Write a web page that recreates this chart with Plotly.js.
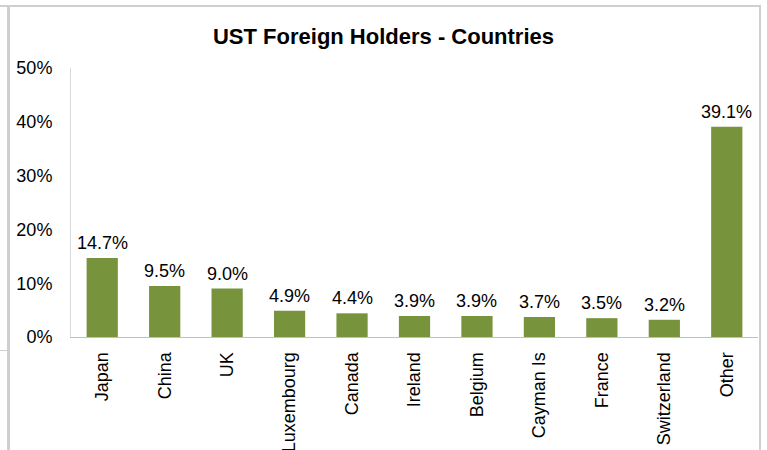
<!DOCTYPE html>
<html>
<head>
<meta charset="utf-8">
<script src="https://cdn.plot.ly/plotly-3.0.1.min.js"></script>
<style>
  html, body { margin: 0; padding: 0; background: #fff; }
  #chart { width: 767px; height: 450px; position: absolute; left: 0; top: 0; }
  .fr { position: absolute; background: #cfcfcf; }
</style>
</head>
<body>
<div id="chart"></div>
<div class="fr" style="left:0px; top:5px; width:761px; height:2px;"></div>
<div class="fr" style="left:7px; top:5px; width:3px; height:445px;"></div>
<div class="fr" style="left:759px; top:5px; width:2px; height:445px;"></div>
<div class="fr" style="left:0px; top:350px; width:8px; height:1px;"></div>
<script>
const countries = ["Japan", "China", "UK", "Luxembourg", "Canada", "Ireland", "Belgium", "Cayman Is", "France", "Switzerland", "Other"];
const shares = [14.7, 9.5, 9.0, 4.9, 4.4, 3.9, 3.9, 3.7, 3.5, 3.2, 39.1];
const yTicks = [0, 10, 20, 30, 40, 50];
const yTickLabels = ["0%", "10%", "20%", "30%", "40%", "50%"];

const font = "Liberation Sans, Arial, sans-serif";

const trace = {
  type: "bar",
  x: countries,
  y: shares,
  marker: { color: "#77933C" },
  width: 0.5,
  hoverinfo: "x+y"
};

const labels = countries.map((c, i) => ({
  x: c,
  y: shares[i],
  xref: "x",
  yref: "y",
  text: shares[i].toFixed(1) + "%",
  showarrow: false,
  yanchor: "bottom",
  yshift: 3,
  font: { family: font, size: 18, color: "#000" }
}));

const layout = {
  width: 767,
  height: 450,
  margin: { l: 71, r: 9, t: 68, b: 113 },
  paper_bgcolor: "#fff",
  plot_bgcolor: "#fff",
  showlegend: false,
  title: {
    text: "<b>UST Foreign Holders - Countries</b>",
    font: { family: font, size: 22, color: "#000" },
    x: 0.5, xanchor: "center",
    y: 1 - 36 / 450, yanchor: "middle", yref: "container"
  },
  annotations: labels,
  xaxis: {
    type: "category",
    tickangle: -90,
    tickfont: { family: font, size: 18, color: "#000" },
    showline: true, linecolor: "#c0c0c0", linewidth: 1,
    showgrid: false, zeroline: false, ticks: "",
    ticklabelstandoff: 7
  },
  yaxis: {
    range: [0, 50],
    tickvals: yTicks,
    ticktext: yTickLabels,
    tickfont: { family: font, size: 18, color: "#000" },
    showline: true, linecolor: "#d9d9d9", linewidth: 1,
    showgrid: false, zeroline: false, ticks: "",
    ticklabelstandoff: 14
  },
  bargap: 0.5
};

Plotly.newPlot("chart", [trace], layout, { displayModeBar: false, staticPlot: true });
</script>
</body>
</html>
